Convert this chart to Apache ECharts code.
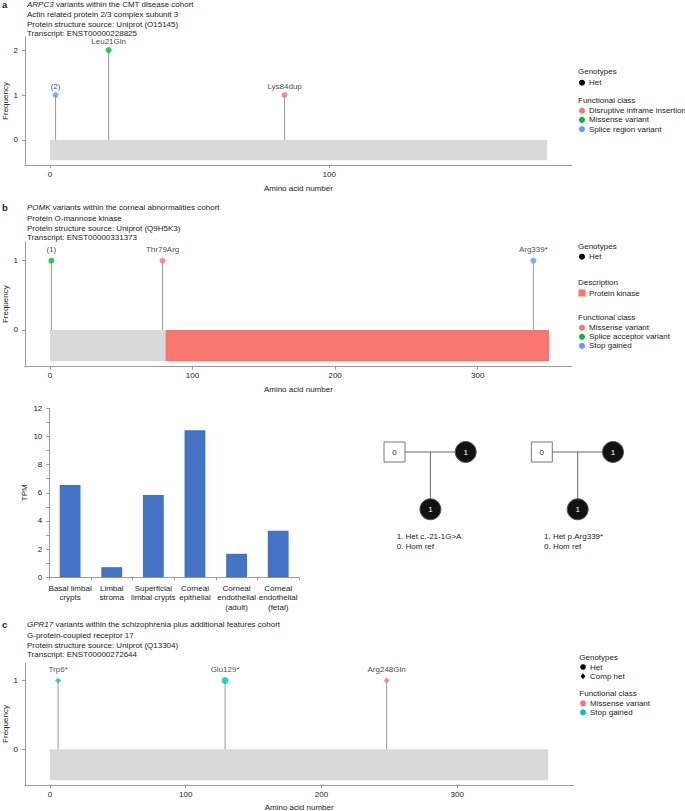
<!DOCTYPE html>
<html><head><meta charset="utf-8">
<script src="https://cdn.jsdelivr.net/npm/echarts@6/dist/echarts.min.js"></script>
<style>html,body{margin:0;padding:0;background:#fff}#c{width:685px;height:811px}</style>
</head><body><div id="c"></div>
<script>
const FONT = '"Liberation Sans", Arial, Helvetica, sans-serif';
const TXT = '#222';
const AX = '#9a9a9a';
const STEM = '#9a9a9a';

// ---------- Panel a : ARPC3 ----------
const aPos = [2, 21, 84];
const aFreq = [1, 2, 1];
const aLabel = ['(2)', 'Leu21Gln', 'Lys84dup'];
const aClass = ['Splice region variant', 'Missense variant', 'Disruptive inframe insertion'];
const aGeno = ['Het', 'Het', 'Het'];
const aLength = 178;
const aXTicks = [0, 100];
const aYTicks = [0, 1, 2];
const aClassOrder = ['Disruptive inframe insertion', 'Missense variant', 'Splice region variant'];
const aClassColors = ['#F8766D', '#00BA38', '#619CFF'];
const aTitle = ['{i|ARPC3} variants within the CMT disease cohort', 'Actin related protein 2/3 complex subunit 3', 'Protein structure source: Uniprot (O15145)', 'Transcript: ENST00000228825'];

// ---------- Panel b : POMK ----------
const bPos = [1, 79, 339];
const bFreq = [1, 1, 1];
const bLabel = ['(1)', 'Thr79Arg', 'Arg339*'];
const bClass = ['Splice acceptor variant', 'Missense variant', 'Stop gained'];
const bGeno = ['Het', 'Het', 'Het'];
const bLength = 350;
const bDomainStart = 81;
const bDomainName = 'Protein kinase';
const bXTicks = [0, 100, 200, 300];
const bYTicks = [0, 1];
const bClassOrder = ['Missense variant', 'Splice acceptor variant', 'Stop gained'];
const bClassColors = ['#F8766D', '#00BA38', '#619CFF'];
const bTitle = ['{i|POMK} variants within the corneal abnormalities cohort', 'Protein O-mannose kinase', 'Protein structure source: Uniprot (Q9H5K3)', 'Transcript: ENST00000331373'];

// ---------- Panel c : GPR17 ----------
const cPos = [6, 129, 248];
const cFreq = [1, 1, 1];
const cLabel = ['Trp6*', 'Glu129*', 'Arg248Gln'];
const cClass = ['Stop gained', 'Stop gained', 'Missense variant'];
const cGeno = ['Comp het', 'Het', 'Comp het'];
const cLength = 367;
const cXTicks = [0, 100, 200, 300];
const cYTicks = [0, 1];
const cClassOrder = ['Missense variant', 'Stop gained'];
const cClassColors = ['#F8766D', '#00BFC4'];
const cTitle = ['{i|GPR17} variants within the schizophrenia plus additional features cohort', 'G-protein-coupled receptor 17', 'Protein structure source: Uniprot (Q13304)', 'Transcript: ENST00000272644'];

// ---------- TPM bar chart ----------
const tpmCats = ['Basal limbal\ncrypts', 'Limbal\nstroma', 'Superficial\nlimbal crypts', 'Corneal\nepithelial', 'Corneal\nendothelial\n(adult)', 'Corneal\nendothelial\n(fetal)'];
const tpmVals = [6.55, 0.72, 5.85, 10.45, 1.67, 3.3];

// ---------- Pedigrees ----------
const pedLabels = [['1. Het c.-21-1G>A', '0. Hom ref'], ['1. Het p.Arg339*', '0. Hom ref']];
const pedFather = ['0', '0'];
const pedMother = ['1', '1'];
const pedChild = ['1', '1'];

const BOX_BOTTOM = -0.45;
const GREY = '#D9D9D9';

function colorOf(cls, order, colors) { return colors[order.indexOf(cls)]; }

function boxRender(params, api) {
  const p0 = api.coord([api.value(0), api.value(2)]);
  const p1 = api.coord([api.value(1), api.value(3)]);
  return { type: 'rect', shape: { x: p0[0], y: p0[1], width: p1[0] - p0[0], height: p1[1] - p0[1] }, style: { fill: api.visual('color') } };
}
function stemRender(params, api) {
  const p0 = api.coord([api.value(0), 0]);
  const p1 = api.coord([api.value(0), api.value(1)]);
  return { type: 'line', shape: { x1: p0[0], y1: p0[1], x2: p1[0], y2: p1[1] }, style: { stroke: STEM, lineWidth: 1 } };
}

function xAx(gi, min, max, ticks, gap) {
  return {
    type: 'value', gridIndex: gi, min: min, max: max,
    axisLine: { show: true, onZero: false, lineStyle: { color: AX, width: 1 } },
    axisTick: { show: true, length: 3, customValues: ticks, lineStyle: { color: AX } },
    axisLabel: { customValues: ticks, fontSize: 8, color: TXT, margin: 5, fontFamily: FONT },
    splitLine: { show: false },
    name: 'Amino acid number', nameLocation: 'middle', nameGap: gap, nameMoveOverlap: false,
    nameTextStyle: { fontSize: 8, color: TXT, fontFamily: FONT }
  };
}
function yAx(gi, min, max, ticks) {
  return {
    type: 'value', gridIndex: gi, min: min, max: max,
    axisLine: { show: true, onZero: false, lineStyle: { color: AX, width: 1 } },
    axisTick: { show: true, length: 3, customValues: ticks, lineStyle: { color: AX } },
    axisLabel: { customValues: ticks, fontSize: 8, color: TXT, margin: 7, fontFamily: FONT },
    splitLine: { show: false },
    name: 'Frequency', nameLocation: 'middle', nameGap: 16, nameRotate: 90, nameMoveOverlap: false,
    nameTextStyle: { fontSize: 8, color: TXT, fontFamily: FONT }
  };
}

function panelSeries(idx, pos, freq, label, cls, geno, order, colors, boxes, labelDist, circleSize, diamondSize) {
  return [
    { type: 'custom', xAxisIndex: idx, yAxisIndex: idx, renderItem: boxRender, silent: true, z: 1,
      encode: { x: [0, 1], y: [2, 3] }, data: boxes },
    { type: 'custom', xAxisIndex: idx, yAxisIndex: idx, renderItem: stemRender, silent: true, z: 2,
      encode: { x: 0, y: 1 }, data: pos.map((p, i) => [p, freq[i]]) },
    { type: 'scatter', xAxisIndex: idx, yAxisIndex: idx, z: 3,
      data: pos.map((p, i) => ({
        name: label[i], value: [p, freq[i]],
        symbol: geno[i] === 'Het' ? 'circle' : 'diamond',
        symbolSize: geno[i] === 'Het' ? circleSize : diamondSize,
        itemStyle: { color: colorOf(cls[i], order, colors) }
      })),
      label: { show: true, position: 'top', distance: labelDist, formatter: '{b}', fontSize: 8, color: '#111',
               textBorderWidth: 0, textBorderColor: 'transparent', fontFamily: FONT }
    }
  ];
}

// ---------- graphic helpers ----------
const graphics = [];
function txt(x, y, text, opts) {
  opts = opts || {};
  graphics.push({ type: 'text', x: x, y: y, silent: true, style: Object.assign({
    text: text, fontSize: 8, fontFamily: FONT, fill: TXT, verticalAlign: 'middle', align: 'left',
    rich: { i: { fontStyle: 'italic', fontSize: 8, fontFamily: FONT, fill: TXT } }
  }, opts) });
}
function dot(x, y, color, shape, size) {
  if (shape === 'diamond') {
    graphics.push({ type: 'polygon', silent: true, shape: { points: [[x, y - size], [x + size * 0.8, y], [x, y + size], [x - size * 0.8, y]] }, style: { fill: color } });
  } else {
    graphics.push({ type: 'circle', silent: true, shape: { cx: x, cy: y, r: size }, style: { fill: color } });
  }
}
function title(letter, lines, ys) {
  txt(2, ys[0], letter, { fontWeight: 'bold', fontSize: 9.5 });
  lines.forEach((l, i) => txt(27, ys[i], l));
}
title('a', aTitle, [4, 14.8, 24.4, 33.6]);
title('b', bTitle, [207.8, 218.3, 228.2, 237.4]);
title('c', cTitle, [624, 635.6, 645.5, 654.6]);

// legend a
txt(578, 71.7, 'Genotypes');
dot(582, 82.7, '#000', 'circle', 3); txt(589, 82.7, 'Het');
txt(578, 100, 'Functional class');
aClassOrder.forEach((c, i) => { dot(582, 110.7 + i * 9.2, aClassColors[i], 'circle', 3); txt(589, 110.7 + i * 9.2, c); });
// legend b
txt(578, 246.7, 'Genotypes');
dot(582, 256.7, '#000', 'circle', 3); txt(589, 256.7, 'Het');
txt(578, 282, 'Description');
graphics.push({ type: 'rect', silent: true, shape: { x: 578.5, y: 289.5, width: 7, height: 7 }, style: { fill: '#F8766D' } });
txt(589, 293, bDomainName);
txt(578, 317.7, 'Functional class');
bClassOrder.forEach((c, i) => { dot(582, 327.7 + i * 9.1, bClassColors[i], 'circle', 3); txt(589, 327.7 + i * 9.1, c); });
// legend c
txt(579.3, 657.7, 'Genotypes');
dot(583, 667, '#000', 'circle', 2.8); txt(590, 667, 'Het');
dot(583, 676.3, '#000', 'diamond', 3); txt(590, 676.3, 'Comp het');
txt(579.3, 693.7, 'Functional class');
cClassOrder.forEach((c, i) => { dot(583, 703.3 + i * 9, cClassColors[i], 'circle', 3); txt(590, 703.3 + i * 9, c); });

// pedigrees
[0, 147.3].forEach((dx, k) => {
  const sq = { x: 394.5 + dx, y: 452 }, mo = { x: 465.7 + dx, y: 452 }, ch = { x: 430.4 + dx, y: 509.3 }, r = 10.5;
  graphics.push({ type: 'line', silent: true, shape: { x1: sq.x + 10.5, y1: sq.y, x2: mo.x - r, y2: mo.y }, style: { stroke: '#666', lineWidth: 1 } });
  graphics.push({ type: 'line', silent: true, shape: { x1: ch.x, y1: sq.y, x2: ch.x, y2: ch.y - r }, style: { stroke: '#666', lineWidth: 1 } });
  graphics.push({ type: 'rect', silent: true, shape: { x: sq.x - 10.5, y: sq.y - 10, width: 21, height: 20 }, style: { fill: '#fff', stroke: '#777', lineWidth: 1 } });
  txt(sq.x, sq.y, pedFather[k], { align: 'center' });
  graphics.push({ type: 'circle', silent: true, shape: { cx: mo.x, cy: mo.y, r: r }, style: { fill: '#111', stroke: '#555', lineWidth: 1 } });
  txt(mo.x, mo.y, pedMother[k], { align: 'center', fill: '#fff' });
  graphics.push({ type: 'circle', silent: true, shape: { cx: ch.x, cy: ch.y, r: r }, style: { fill: '#111', stroke: '#555', lineWidth: 1 } });
  txt(ch.x, ch.y, pedChild[k], { align: 'center', fill: '#fff' });
  pedLabels[k].forEach((l, i) => txt(396.7 + dx, 536.7 + i * 9.8, l));
});

const G = { containLabel: false, outerBoundsMode: 'none' };
const option = {
  animation: false,
  backgroundColor: '#fff',
  grid: [
    Object.assign({ left: 25, top: 37, width: 546.7, height: 128 }, G),
    Object.assign({ left: 25, top: 241.7, width: 546.7, height: 125 }, G),
    Object.assign({ left: 25, top: 663, width: 548.3, height: 122 }, G),
    Object.assign({ left: 49.3, top: 408.3, width: 249.7, height: 169 }, G)
  ],
  xAxis: [
    xAx(0, -8.95, 186.8, aXTicks, 19),
    xAx(1, -17.5, 365.9, bXTicks, 19),
    xAx(2, -18.4, 385.5, cXTicks, 18),
    { type: 'category', gridIndex: 3, data: tpmCats,
      axisLine: { show: true, lineStyle: { color: AX } },
      axisTick: { show: true, length: 3, lineStyle: { color: AX } },
      axisLabel: { interval: 0, fontSize: 8, lineHeight: 9.6, color: TXT, margin: 6, fontFamily: FONT } }
  ],
  yAxis: [
    yAx(0, -0.556, 2.29, aYTicks),
    yAx(1, -0.53, 1.274, bYTicks),
    yAx(2, -0.52, 1.256, cYTicks),
    { type: 'value', gridIndex: 3, min: 0, max: 12, interval: 2,
      axisLine: { show: true, lineStyle: { color: AX } },
      axisTick: { show: true, length: 3, lineStyle: { color: AX } },
      minorTick: { show: true, splitNumber: 2, length: 3, lineStyle: { color: AX } },
      axisLabel: { fontSize: 8, color: TXT, margin: 7, fontFamily: FONT },
      splitLine: { show: false },
      name: 'TPM', nameLocation: 'middle', nameGap: 21, nameRotate: 90, nameMoveOverlap: false,
      nameTextStyle: { fontSize: 8, color: TXT, fontFamily: FONT } }
  ],
  series: [].concat(
    panelSeries(0, aPos, aFreq, aLabel, aClass, aGeno, aClassOrder, aClassColors,
      [{ value: [0, aLength, 0, BOX_BOTTOM], itemStyle: { color: GREY } }], 2, 6, 6),
    panelSeries(1, bPos, bFreq, bLabel, bClass, bGeno, bClassOrder, bClassColors,
      [{ value: [0, bDomainStart, 0, BOX_BOTTOM], itemStyle: { color: GREY } },
       { value: [bDomainStart, bLength, 0, BOX_BOTTOM], itemStyle: { color: '#F8766D' } }], 4, 6, 6),
    panelSeries(2, cPos, cFreq, cLabel, cClass, cGeno, cClassOrder, cClassColors,
      [{ value: [0, cLength, 0, BOX_BOTTOM], itemStyle: { color: GREY } }], 4, 7, 6),
    [{ type: 'bar', xAxisIndex: 3, yAxisIndex: 3, data: tpmVals, barWidth: '50%',
       itemStyle: { color: '#4472C4' } }]
  ),
  graphic: graphics
};
const chart = echarts.init(document.getElementById('c'), null, { renderer: 'svg' });
chart.setOption(option);
</script>
</body></html>
